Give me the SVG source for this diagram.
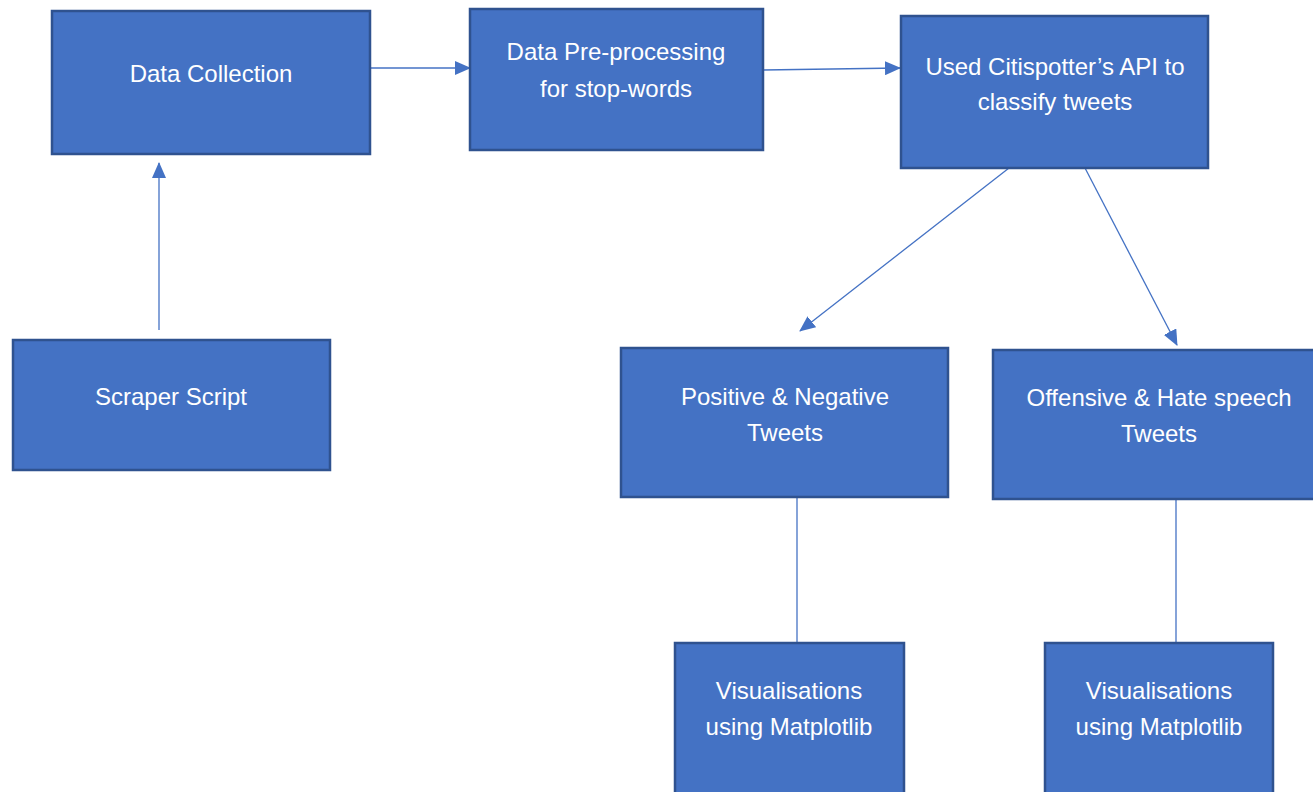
<svg xmlns="http://www.w3.org/2000/svg" width="1313" height="792" viewBox="0 0 1313 792">
<style>
.box{fill:#4472C4;stroke:#2F528F;stroke-width:2.5}
.lbl{fill:#FFFFFF;font-family:"Liberation Sans",Arial,sans-serif;font-size:24px;text-anchor:middle}
.con{stroke:#4472C4;stroke-width:1.3;fill:none}
</style>
<defs>
<marker id="ah" markerWidth="16" markerHeight="14" refX="15" refY="7" orient="auto" markerUnits="userSpaceOnUse">
<path d="M0,0 L16,7 L0,14 Z" fill="#4472C4"/>
</marker>
</defs>
<rect width="1313" height="792" fill="#FFFFFF"/>
<g id="connectors">
<line class="con" x1="370" y1="68" x2="470" y2="68" marker-end="url(#ah)"/>
<line class="con" x1="763" y1="70" x2="900" y2="68" marker-end="url(#ah)"/>
<line class="con" x1="159" y1="330" x2="159" y2="163" marker-end="url(#ah)"/>
<line class="con" x1="1009" y1="168" x2="800" y2="331" marker-end="url(#ah)"/>
<line class="con" x1="1085" y1="168" x2="1177" y2="345" marker-end="url(#ah)"/>
<line class="con" x1="797" y1="497" x2="797" y2="643"/>
<line class="con" x1="1176" y1="499" x2="1176" y2="643"/>
</g>
<g id="n-data-collection">
<rect class="box" x="52" y="11" width="318" height="143"/>
<text class="lbl" x="211" y="82">Data Collection</text>
</g>
<g id="n-preprocessing">
<rect class="box" x="470" y="9" width="293" height="141"/>
<text class="lbl" x="616" y="60">Data Pre-processing</text>
<text class="lbl" x="616" y="97">for stop-words</text>
</g>
<g id="n-citispotter">
<rect class="box" x="901" y="16" width="307" height="152"/>
<text class="lbl" x="1055" y="75">Used Citispotter’s API to</text>
<text class="lbl" x="1055" y="110">classify tweets</text>
</g>
<g id="n-scraper">
<rect class="box" x="13" y="340" width="317" height="130"/>
<text class="lbl" x="171" y="405">Scraper Script</text>
</g>
<g id="n-posneg">
<rect class="box" x="621" y="348" width="327" height="149"/>
<text class="lbl" x="785" y="405">Positive &amp; Negative</text>
<text class="lbl" x="785" y="441">Tweets</text>
</g>
<g id="n-offensive">
<rect class="box" x="993" y="350" width="322" height="149"/>
<text class="lbl" x="1159" y="406">Offensive &amp; Hate speech</text>
<text class="lbl" x="1159" y="442">Tweets</text>
</g>
<g id="n-vis1">
<rect class="box" x="675" y="643" width="229" height="152"/>
<text class="lbl" x="789" y="699">Visualisations</text>
<text class="lbl" x="789" y="735">using Matplotlib</text>
</g>
<g id="n-vis2">
<rect class="box" x="1045" y="643" width="228" height="152"/>
<text class="lbl" x="1159" y="699">Visualisations</text>
<text class="lbl" x="1159" y="735">using Matplotlib</text>
</g>
</svg>
